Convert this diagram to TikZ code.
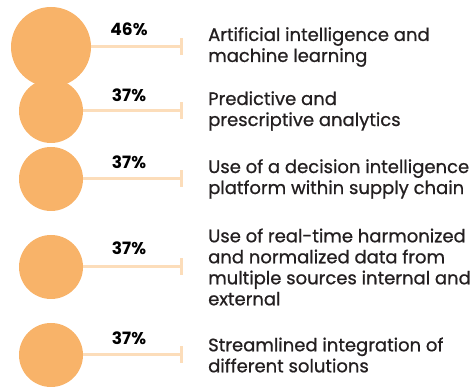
\documentclass[tikz,border=0pt]{standalone}
\usepackage{fontspec}
\setmainfont{Poppins}
\newfontfamily\lblfont{Poppins}[RawFeature={embolden=0.8}]
\usepackage{tikz}
\usetikzlibrary{arrows.meta,positioning}
\definecolor{peach}{HTML}{F8B369}
\definecolor{lightpeach}{HTML}{FCDDBA}
\definecolor{darktext}{HTML}{231F20}
\tikzset{
  dot/.style={circle,fill=peach,draw=none,inner sep=0pt},
  bar/.style={lightpeach,line width=3pt,-{Bar[width=17pt,line width=3pt]}},
  pct/.style={font=\bfseries\fontsize{17}{18}\selectfont,text=black},
  lbl/.style={anchor=west,align=left,inner sep=0pt,text=darktext,font=\lblfont\fontsize{18}{21}\selectfont}
}
\begin{document}
\begin{tikzpicture}[x=1pt,y=1pt]
\useasboundingbox (0,0) rectangle (475,387);
\node[dot,minimum size=80pt] (C1) at (51,340) {};
\node[dot,minimum size=64pt] (C2) at (51,276) {};
\node[dot,minimum size=64pt] (C3) at (51,208) {};
\node[dot,minimum size=64pt] (C4) at (51,120) {};
\node[dot,minimum size=64pt] (C5) at (51,32) {};
\coordinate (T1) at (183,340);
\coordinate (T2) at (183,276);
\coordinate (T3) at (183,208);
\coordinate (T4) at (183,120);
\coordinate (T5) at (183,32);
\begin{scope}[on background layer/.try]
\draw[bar] (C1.east) -- (T1);
\draw[bar] (C2.east) -- (T2);
\draw[bar] (C3.east) -- (T3);
\draw[bar] (C4.east) -- (T4);
\draw[bar] (C5.east) -- (T5);
\end{scope}
\node[pct] (P1) at (129,358) {46\%};
\node[pct] (P2) at (129,292) {37\%};
\node[pct] (P3) at (129,225) {37\%};
\node[pct] (P4) at (129,139) {37\%};
\node[pct] (P5) at (129,49) {37\%};
\node[lbl] (L1) at (208,340) {Artificial intelligence and\\machine learning};
\node[lbl] (L2) at (208,276) {Predictive and\\prescriptive analytics};
\node[lbl] (L3) at (208,208) {Use of a decision intelligence\\platform within supply chain};
\node[lbl] (L4) at (208,120) {Use of real-time harmonized\\and normalized data from\\multiple sources internal and\\external};
\node[lbl] (L5) at (208,32) {Streamlined integration of\\different solutions};
\end{tikzpicture}
\end{document}
